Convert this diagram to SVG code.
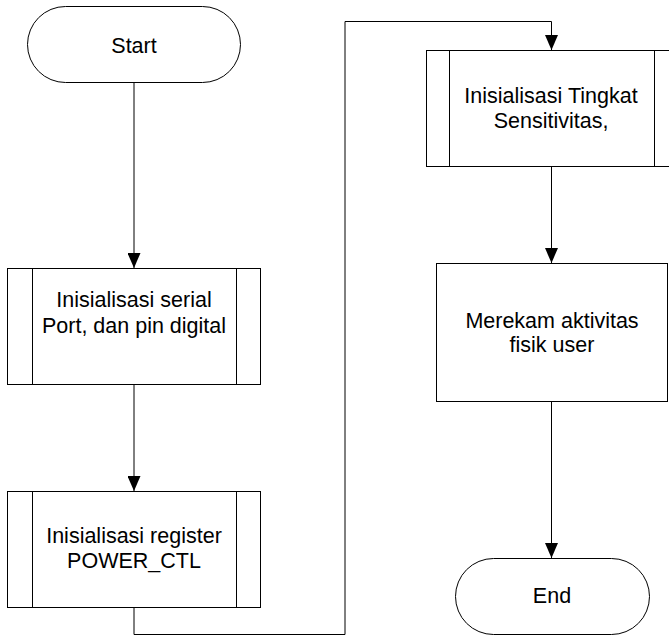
<svg xmlns="http://www.w3.org/2000/svg" width="669" height="636" viewBox="0 0 669 636">
<defs>
<marker id="arr" markerWidth="15" markerHeight="13" refX="15" refY="6.5" orient="auto" markerUnits="userSpaceOnUse" viewBox="0 0 15 13">
<path d="M0,0 L15,6.5 L0,13 Z" fill="#000"/>
</marker>
</defs>
<style>
.s{fill:#fff;stroke:#000;stroke-width:1}
.l{fill:none;stroke:#000;stroke-width:1}
.t{font-family:"Liberation Sans",Arial,sans-serif;font-size:21.5px;fill:#000;text-anchor:middle}
.c{fill:none;stroke:#000;stroke-width:1;marker-end:url(#arr)}
</style>
<rect width="669" height="636" fill="#fff"/>
<g id="connectors">
<path class="c" d="M134,83 V268"/>
<path class="c" d="M134,384 V491"/>
<path class="c" d="M134,607 V634.5 H345 V21.5 H551.5 V50"/>
<path class="c" d="M551.5,166 V263"/>
<path class="c" d="M551.5,401 V558"/>
</g>
<g id="start">
<rect class="s" x="27.5" y="6.5" width="213" height="76" rx="38" ry="38"/>
<text class="t" x="134" y="53">Start</text>
</g>
<g id="init-serial">
<rect class="s" x="7.5" y="268.5" width="253" height="116"/>
<path class="l" d="M32.5,268.5 V384.5 M236.5,268.5 V384.5"/>
<text class="t" x="134" y="307">Inisialisasi serial</text>
<text class="t" x="134" y="333">Port, dan pin digital</text>
</g>
<g id="init-register">
<rect class="s" x="7.5" y="491.5" width="253" height="116"/>
<path class="l" d="M32.5,491.5 V607.5 M236.5,491.5 V607.5"/>
<text class="t" x="134" y="543">Inisialisasi register</text>
<text class="t" x="134" y="568">POWER_CTL</text>
</g>
<g id="init-sensitivity">
<rect class="s" x="426.5" y="50.5" width="252" height="116"/>
<path class="l" d="M449.5,50.5 V166.5 M654.5,50.5 V166.5"/>
<text class="t" x="551" y="103">Inisialisasi Tingkat</text>
<text class="t" x="551" y="128">Sensitivitas,</text>
</g>
<g id="record">
<rect class="s" x="436.5" y="263.5" width="231" height="138"/>
<text class="t" x="552" y="328">Merekam aktivitas</text>
<text class="t" x="552" y="352">fisik user</text>
</g>
<g id="end">
<rect class="s" x="455.5" y="558.5" width="194" height="76" rx="38" ry="38"/>
<text class="t" x="552" y="603">End</text>
</g>
</svg>
